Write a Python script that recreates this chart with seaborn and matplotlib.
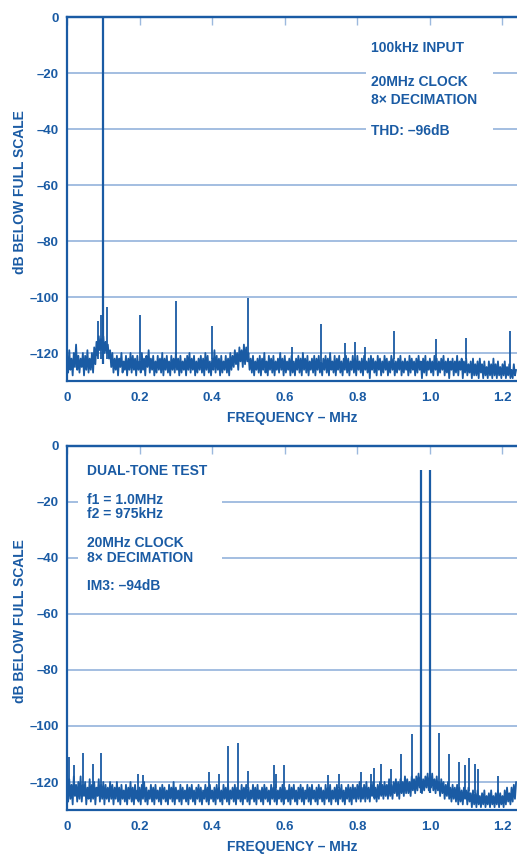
import matplotlib
matplotlib.use('Agg')
import matplotlib.pyplot as plt
from matplotlib.patches import Rectangle
import seaborn as sns
import numpy as np

# ------------------------------------------------------------
# Data (dB below full scale)
# noise floor bins, 0.003125 MHz apart
# ------------------------------------------------------------
BIN_STEP = 0.003125

top_noise = [
    -121, -127, -119, -126, -122, -128, -120, -125, -117, -126, -121, -127, -122, -125, -120, -128, -121, -126, -119, -127,
    -122, -126, -120, -127, -118, -124, -116, -121, -114, -119, -115, -119, -114, -120, -116, -120, -117, -122, -119, -125,
    -120, -127, -122, -126, -121, -128, -122, -125, -120, -127, -123, -126, -121, -128, -122, -126, -120, -127, -121, -126,
    -122, -128, -121, -126, -123, -127, -120, -126, -122, -128, -121, -125, -119, -127, -122, -126, -121, -128, -123, -127,
    -121, -126, -122, -127, -120, -128, -122, -126, -121, -127, -123, -128, -121, -126, -122, -127, -120, -126, -122, -128,
    -121, -127, -123, -126, -122, -128, -121, -126, -120, -127, -122, -126, -121, -128, -123, -127, -122, -126, -121, -127,
    -122, -128, -120, -126, -121, -127, -123, -128, -122, -126, -119, -127, -121, -126, -122, -128, -121, -127, -123, -126,
    -121, -127, -122, -128, -120, -126, -121, -125, -119, -124, -120, -126, -118, -123, -119, -125, -117, -124, -118, -123,
    -120, -126, -122, -127, -121, -128, -123, -126, -122, -127, -121, -128, -122, -126, -120, -127, -123, -128, -121, -126,
    -122, -127, -121, -128, -123, -126, -122, -127, -120, -126, -122, -128, -121, -127, -123, -126, -122, -128, -121, -127,
    -123, -128, -122, -126, -121, -127, -122, -128, -120, -126, -122, -127, -121, -128, -123, -126, -122, -127, -121, -128,
    -122, -126, -121, -127, -123, -128, -122, -126, -121, -127, -122, -128, -120, -126, -123, -127, -121, -128, -122, -126,
    -121, -127, -123, -128, -122, -126, -121, -127, -122, -128, -123, -126, -121, -127, -122, -128, -121, -126, -123, -127,
    -122, -128, -121, -126, -123, -127, -122, -129, -121, -126, -122, -127, -123, -128, -121, -126, -122, -128, -123, -127,
    -121, -126, -122, -128, -123, -127, -121, -126, -122, -128, -123, -127, -122, -126, -121, -128, -123, -127, -122, -126,
    -123, -128, -121, -127, -122, -126, -123, -128, -122, -127, -121, -126, -123, -129, -122, -127, -121, -128, -123, -126,
    -122, -127, -123, -128, -121, -126, -122, -128, -123, -127, -122, -126, -121, -128, -123, -127, -122, -129, -123, -126,
    -122, -128, -123, -127, -121, -128, -123, -126, -122, -129, -123, -127, -122, -128, -124, -127, -123, -129, -122, -128,
    -124, -128, -123, -129, -122, -127, -124, -129, -123, -128, -125, -129, -123, -128, -124, -129, -122, -128, -124, -129,
    -123, -128, -125, -129, -124, -128, -123, -129, -125, -128, -124, -129, -126, -129, -124, -128, -126,
]

bot_noise = [
    -116, -127, -119, -126, -121, -128, -118, -125, -121, -127, -120, -126, -118, -127, -121, -125, -120, -128, -122, -126,
    -119, -127, -121, -126, -120, -128, -122, -125, -119, -127, -121, -126, -120, -128, -121, -126, -122, -127, -120, -126,
    -121, -128, -122, -126, -120, -127, -122, -128, -121, -126, -123, -127, -121, -128, -122, -126, -120, -127, -122, -128,
    -121, -126, -123, -127, -122, -128, -121, -126, -120, -127, -122, -128, -123, -126, -121, -127, -122, -128, -121, -126,
    -123, -127, -122, -128, -121, -126, -122, -127, -123, -128, -121, -126, -122, -127, -120, -128, -122, -126, -123, -127,
    -121, -128, -122, -126, -123, -127, -121, -128, -122, -126, -121, -127, -123, -128, -122, -126, -121, -127, -122, -128,
    -123, -126, -121, -127, -122, -128, -121, -126, -123, -127, -122, -128, -121, -126, -122, -127, -123, -128, -121, -126,
    -122, -127, -121, -128, -123, -126, -122, -127, -121, -128, -122, -126, -123, -127, -121, -128, -122, -126, -121, -127,
    -122, -128, -123, -126, -121, -127, -122, -128, -121, -126, -123, -127, -122, -128, -121, -126, -122, -127, -123, -128,
    -121, -126, -122, -127, -121, -128, -123, -126, -122, -127, -121, -128, -122, -126, -123, -127, -121, -128, -122, -126,
    -121, -127, -123, -128, -122, -126, -121, -127, -122, -128, -123, -126, -121, -127, -122, -128, -121, -126, -123, -127,
    -122, -128, -121, -126, -122, -127, -123, -128, -121, -126, -122, -127, -121, -128, -123, -126, -122, -127, -121, -128,
    -122, -126, -121, -127, -123, -128, -122, -126, -121, -127, -122, -128, -121, -126, -122, -127, -121, -126, -120, -127,
    -122, -126, -121, -127, -120, -126, -122, -127, -121, -125, -120, -126, -122, -127, -121, -126, -120, -125, -121, -126,
    -120, -125, -121, -126, -119, -125, -121, -126, -120, -124, -119, -125, -120, -126, -119, -124, -120, -125, -118, -124,
    -119, -124, -120, -125, -118, -123, -119, -124, -118, -123, -117, -122, -118, -124, -119, -123, -118, -122, -117, -123,
    -118, -122, -117, -123, -119, -124, -118, -123, -120, -125, -119, -124, -120, -126, -121, -125, -120, -126, -122, -127,
    -121, -126, -122, -127, -121, -128, -122, -127, -123, -128, -122, -126, -123, -128, -122, -127, -124, -129, -123, -128,
    -124, -129, -123, -128, -125, -129, -124, -128, -123, -129, -125, -128, -124, -129, -123, -128, -125, -129, -124, -128,
    -123, -129, -124, -128, -125, -129, -123, -128, -122, -127, -124, -128, -122, -127, -121, -126, -120,
]

# fundamental, skirt spurs and harmonics (single tone)
top_tone_f = [0.1]
top_tone_db = [0.0]
top_spur_f = [0.085, 0.093, 0.109, 0.2, 0.3, 0.4, 0.5, 0.62, 0.7, 0.765, 0.793, 0.82, 0.9, 1.018, 1.1, 1.22]
top_spur_db = [-108.5, -106.5, -103.5, -106.5, -101.5, -110.5, -100.5, -118, -109.5, -116.5, -116, -118,
               -112, -115, -114.5, -112]

# two tones and spurs (dual-tone test)
bot_tone_f = [0.975, 1.0]
bot_tone_db = [-8.5, -8.5]
bot_spur_f = [0.005, 0.018, 0.044, 0.072, 0.093, 0.197, 0.21, 0.39, 0.42, 0.445, 0.472, 0.5, 0.57, 0.575,
              0.597, 0.72, 0.75, 0.81, 0.837, 0.847, 0.866, 0.893, 0.92, 0.95, 1.025, 1.052, 1.08, 1.097,
              1.107, 1.125, 1.133, 1.188]
bot_spur_db = [-111, -114, -109.5, -113.5, -109.5, -117, -117.5, -116.5, -117, -107, -106, -116, -114, -117,
               -114, -117.5, -117, -116.5, -117, -115, -113.5, -115.5, -110, -103, -102.5, -110, -113, -114,
               -111.5, -113.5, -115.5, -118]

Y_TICKS = [0, -20, -40, -60, -80, -100, -120]
Y_LABELS = ['0', '\u201320', '\u201340', '\u201360', '\u201380', '\u2013100', '\u2013120']
X_TICKS = [0, 0.2, 0.4, 0.6, 0.8, 1.0, 1.2]
X_LABELS = ['0', '0.2', '0.4', '0.6', '0.8', '1.0', '1.2']

top_notes = [('100kHz INPUT', 52.5), ('20MHz CLOCK', 86.5), ('8\u00d7 DECIMATION', 104), ('THD: \u201396dB', 135)]
bot_notes = [('DUAL-TONE TEST', 475), ('f1 = 1.0MHz', 504), ('f2 = 975kHz', 518),
             ('20MHz CLOCK', 546.5), ('8\u00d7 DECIMATION', 562), ('IM3: \u201394dB', 590)]

# ------------------------------------------------------------
# Style
# ------------------------------------------------------------
BLUE = '#1a5ba4'
GRID = '#9cb9de'
W, H = 517, 855

sns.set_theme(style='white')
plt.rcParams['font.family'] = ['Liberation Sans', 'DejaVu Sans']
plt.rcParams['font.weight'] = 'bold'

fig = plt.figure(figsize=(W / 100, H / 100), dpi=100)


def draw_panel(ax, noise, tone_f, tone_db, spur_f, spur_db):
    freq = np.arange(len(noise)) * BIN_STEP
    sns.lineplot(x=freq, y=noise, ax=ax, color=BLUE, lw=1.3, estimator=None, sort=False)
    floor = np.interp(spur_f, freq, noise)
    ax.vlines(spur_f, np.minimum(floor, -122), spur_db, color=BLUE, lw=1.3)
    ax.vlines(tone_f, -124, tone_db, color=BLUE, lw=1.6)

    ax.set_xlim(0, 1.24)
    ax.set_ylim(-130, 0)
    ax.set_yticks(Y_TICKS)
    ax.set_yticklabels(Y_LABELS)
    ax.set_xticks(X_TICKS)
    ax.set_xticklabels(X_LABELS)
    ax.yaxis.grid(True, color=GRID, lw=1.3)
    ax.xaxis.grid(False)
    ax.set_axisbelow(True)
    ax.tick_params(axis='y', length=0, pad=6, labelsize=9.5, labelcolor=BLUE)
    ax.tick_params(axis='x', direction='inout', length=6, width=1, color=GRID,
                   pad=5, labelsize=9.5, labelcolor=BLUE)
    for s in ['left', 'bottom', 'top']:
        ax.spines[s].set_color(BLUE)
        ax.spines[s].set_linewidth(1.6)
    ax.spines['right'].set_visible(False)

    # inward ticks along the top edge
    top = ax.secondary_xaxis('top')
    top.set_xticks(X_TICKS)
    top.tick_params(direction='in', length=6, width=1, color=GRID, labeltop=False)
    top.spines['top'].set_color(BLUE)
    top.spines['top'].set_linewidth(1.6)

    ax.set_xlabel('FREQUENCY \u2013 MHz', color=BLUE, fontsize=10, fontweight='bold', labelpad=5)
    ax.set_ylabel('dB BELOW FULL SCALE', color=BLUE, fontsize=10, fontweight='bold')
    ax.yaxis.set_label_coords(-0.088, 0.52)
    for lab in ax.get_xticklabels() + ax.get_yticklabels():
        lab.set_fontweight('bold')


def note_block(ax, notes, x_px, box_px):
    x0, x1, y0, y1 = box_px
    ax.add_patch(Rectangle((x0 / W, 1 - y1 / H), (x1 - x0) / W, (y1 - y0) / H,
                           transform=fig.transFigure, facecolor='white', edgecolor='none', zorder=2))
    for txt, yb in notes:
        fig.text(x_px / W, 1 - yb / H, txt, color=BLUE, fontsize=10, fontweight='bold',
                 ha='left', va='baseline')


ax1 = fig.add_axes([67 / W, 1 - 381 / H, 450 / W, 364 / H])
draw_panel(ax1, top_noise, top_tone_f, top_tone_db, top_spur_f, top_spur_db)
note_block(ax1, top_notes, 371, (366, 493, 36, 142))

ax2 = fig.add_axes([67 / W, 1 - 810 / H, 450 / W, 364 / H])
draw_panel(ax2, bot_noise, bot_tone_f, bot_tone_db, bot_spur_f, bot_spur_db)
note_block(ax2, bot_notes, 87, (78, 222, 458, 597))

fig.savefig('out.png', dpi=100)
plt.close(fig)
